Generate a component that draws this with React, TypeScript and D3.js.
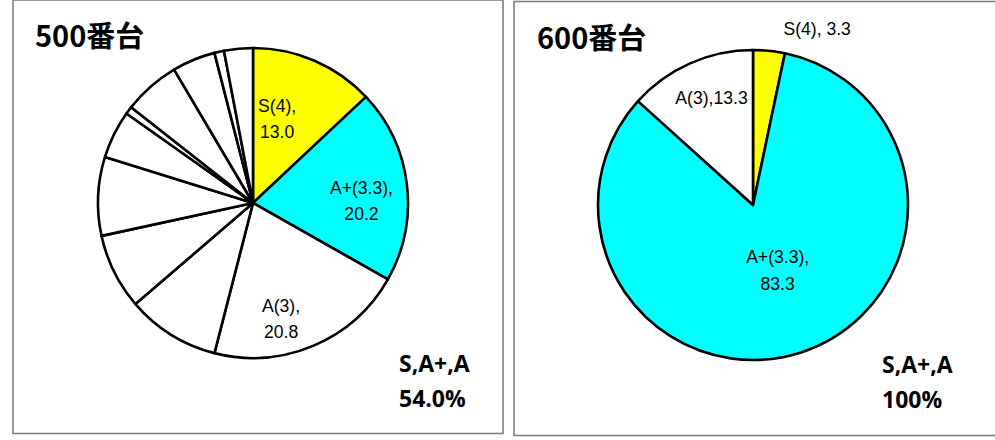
import * as d3 from "d3";

// grade shares (%) per course level, clockwise from 12 o'clock
const grades500 = ["S(4)", "A+(3.3)", "A(3)", "B+", "B", "C+", "C", "C-", "D+", "D", "D-", "F"];
const share500 = [13.0, 20.2, 20.8, 9.7, 7.9, 8.2, 5.0, 0.8, 5.9, 4.5, 1.0, 3.0];

const grades600 = ["S(4)", "A+(3.3)", "A(3)"];
const share600 = [3.3, 83.3, 13.3];

const titles = ["500番台", "600番台"];
const summaryHead = "S,A+,A";
const summaryValue = ["54.0%", "100%"];

const fills = ["#ffff00", "#00ffff"]; // S, A+ ; rest white

type LabelSpot = { angle: number; dist: number; stack: boolean; sep: string };

// where the data labels sit (polar, degrees from top / fraction of radius)
const labels500: LabelSpot[] = [
  { angle: 16, dist: 0.565, stack: true, sep: "" },
  { angle: 89, dist: 0.7, stack: true, sep: "" },
  { angle: 166.4, dist: 0.77, stack: true, sep: "" },
];
const labels600: LabelSpot[] = [
  { angle: 20, dist: 1.21, stack: false, sep: " " },
  { angle: 159.3, dist: 0.45, stack: true, sep: "" },
  { angle: 338.8, dist: 0.74, stack: false, sep: "" },
];

const R = 155;
const labelFont = "'Liberation Sans', Arial, sans-serif";
const boldFont = "'Open Sans', sans-serif";

function Pie({ cx, cy, names, values, spots }: { cx: number; cy: number; names: string[]; values: number[]; spots: LabelSpot[] }) {
  const arcs = d3.pie<number>().sort(null).value((d) => d)(values);
  const arc = d3.arc<d3.PieArcDatum<number>>().innerRadius(0).outerRadius(R);
  return (
    <g transform={`translate(${cx},${cy})`}>
      {arcs.map((a, i) => (
        <path key={i} d={arc(a) || ""} fill={fills[i] || "#ffffff"} stroke="#000" strokeWidth={2.6} strokeLinejoin="round" />
      ))}
      {spots.map((s, i) => {
        const rad = (s.angle * Math.PI) / 180;
        const x = Math.sin(rad) * R * s.dist;
        const y = -Math.cos(rad) * R * s.dist;
        const val = values[i].toFixed(1);
        const lines = s.stack ? [names[i] + ",", val] : [names[i] + "," + s.sep + val];
        const lh = 26.6;
        return (
          <text key={"l" + i} x={x} y={y} textAnchor="middle" fontFamily={labelFont} fontSize={17.6} fill="#000">
            {lines.map((t, j) => (
              <tspan key={j} x={x} y={y + (j - (lines.length - 1) / 2) * lh} dominantBaseline="central">
                {t}
              </tspan>
            ))}
          </text>
        );
      })}
    </g>
  );
}

export default function App() {
  const panels = [
    { x: 13, y: 0, w: 490, h: 433.5, cx: 253, cy: 203, names: grades500, values: share500, spots: labels500, tx: 35, ty: 47, sx: 399 },
    { x: 514, y: 1.5, w: 490, h: 434, cx: 753, cy: 205, names: grades600, values: share600, spots: labels600, tx: 537, ty: 49, sx: 882 },
  ];
  return (
    <svg width={995} height={440} style={{ position: "absolute", left: 0, top: 0, background: "#fff" }}>
      {panels.map((p, k) => (
        <g key={k}>
          <rect x={p.x} y={p.y} width={p.w} height={p.h} fill="#fff" stroke="#808080" strokeWidth={1.6} />
          <Pie cx={p.cx} cy={p.cy} names={p.names} values={p.values} spots={p.spots} />
          <text x={p.tx} y={p.ty} fontFamily="'Noto Sans CJK JP', sans-serif" fontWeight={700} fontSize={29}>
            {titles[k]}
          </text>
          <text x={p.sx} y={k ? 373 : 372} fontFamily={boldFont} fontWeight={700} fontSize={23}>
            {summaryHead}
          </text>
          <text x={p.sx} y={k ? 408 : 407} fontFamily={boldFont} fontWeight={700} fontSize={23}>
            {summaryValue[k]}
          </text>
        </g>
      ))}
    </svg>
  );
}
